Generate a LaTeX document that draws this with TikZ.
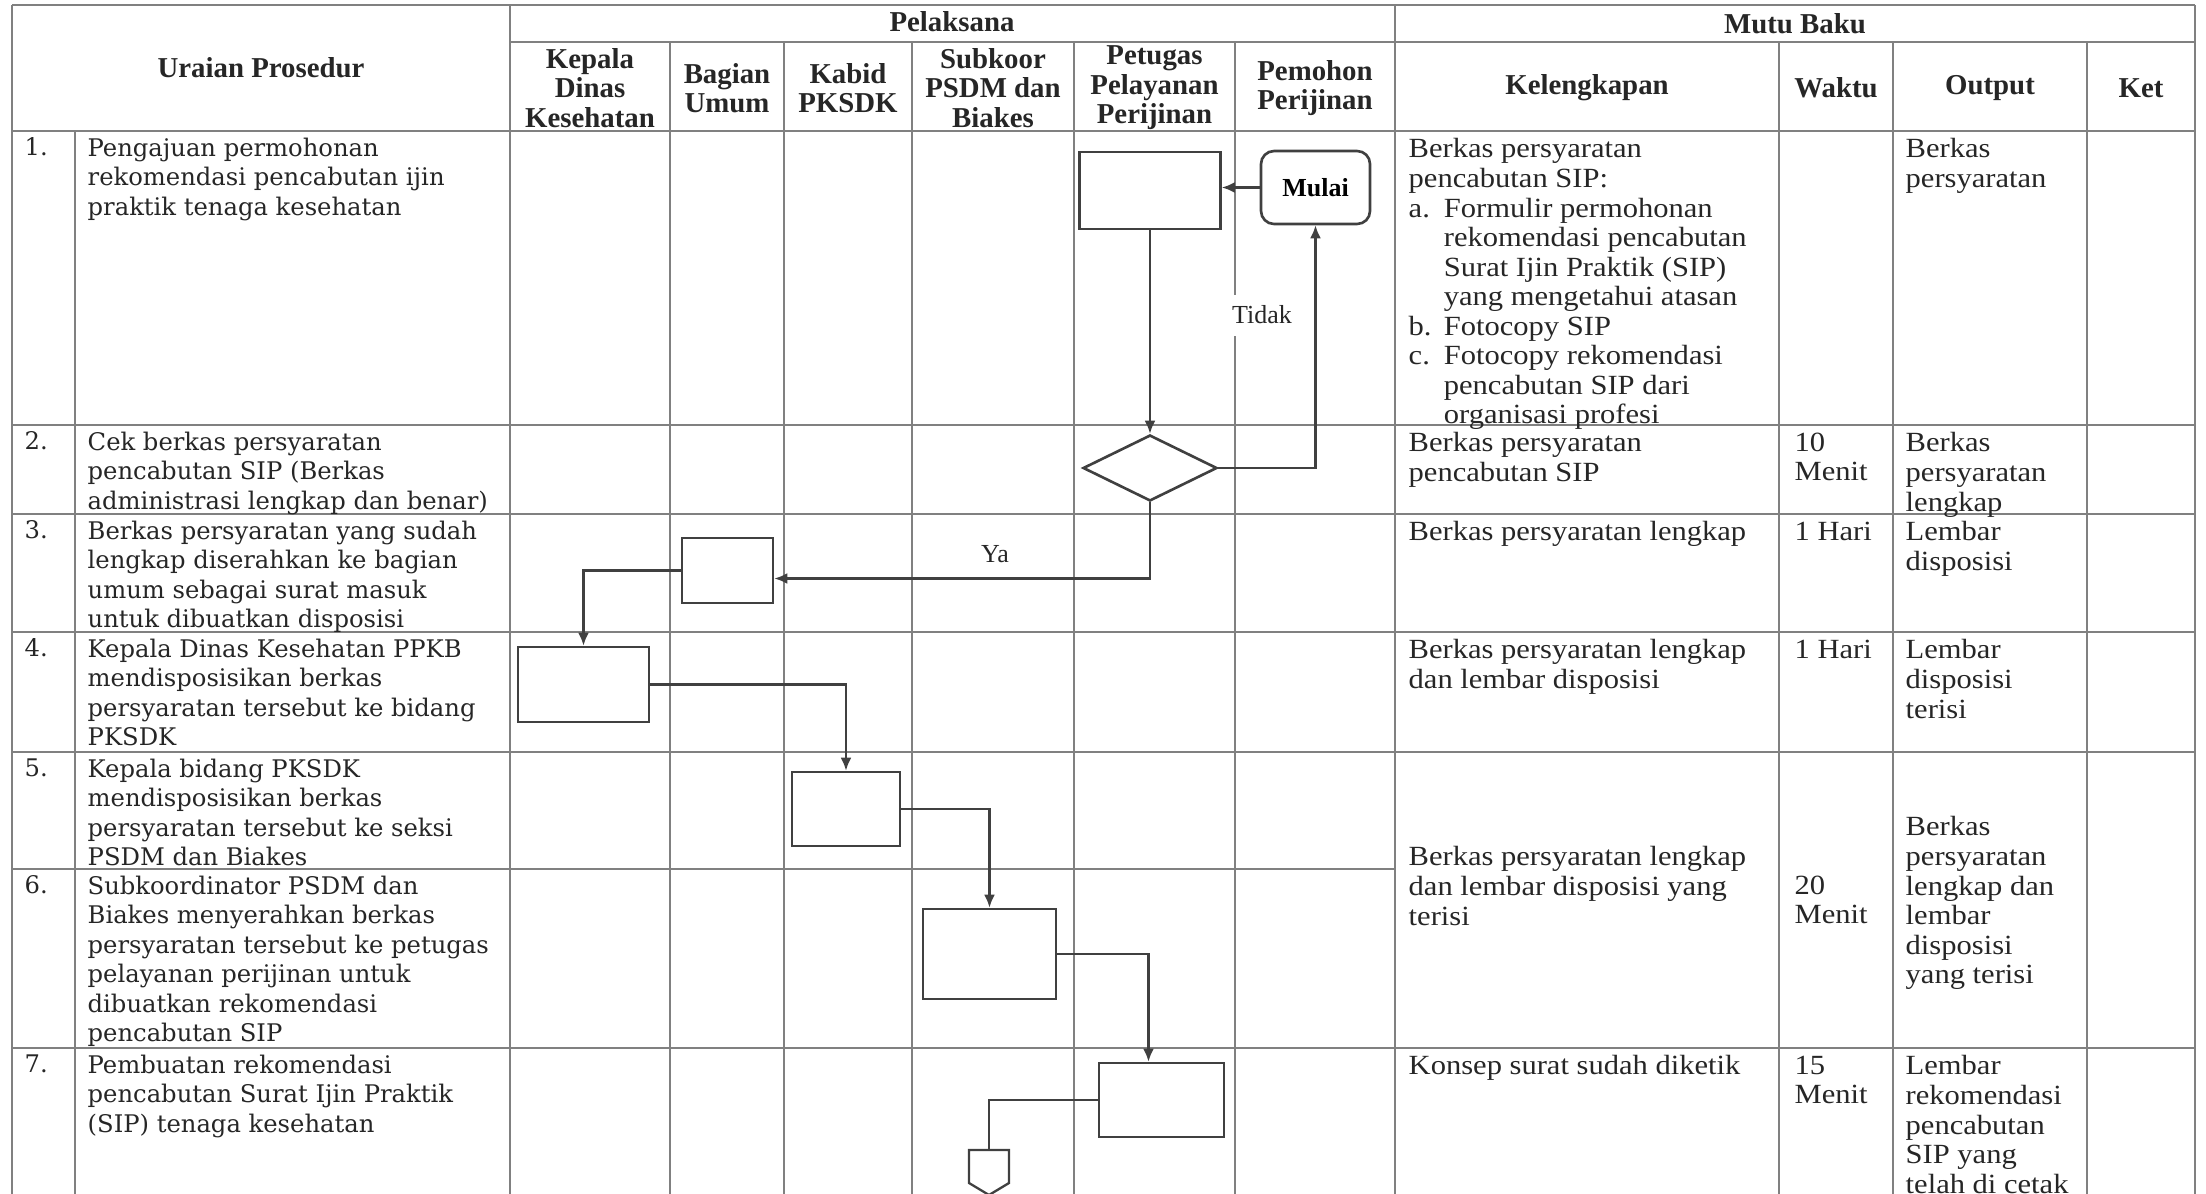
\documentclass[tikz,border=0pt]{standalone}
\usepackage{fontspec}
\setmainfont{Liberation Serif}
\newfontfamily\bkmfont{DejaVu Serif}
\newfontfamily\mutufont[FakeStretch=1.1]{Liberation Serif}
\usetikzlibrary{shapes.geometric,arrows.meta}
\def\butir#1{\makebox[10pt][l]{#1}}
\tikzset{
  garis/.style={draw=black!50, line width=0.45pt},
  proses/.style={draw=black!75, line width=0.75pt, rectangle, inner sep=0pt},
  cekbox/.style={draw=black!75, line width=0.75pt, diamond, inner sep=0pt, minimum width=13.4mm, minimum height=6.6mm},
  mulaibox/.style={draw=black!75, line width=0.75pt, rounded corners=1.3mm, minimum width=10.9mm, minimum height=7.3mm, inner sep=0pt, font=\bfseries\fontsize{7.4}{8}\selectfont},
  alur/.style={draw=black!75, line width=0.65pt, -{Latex[length=1.3mm,width=1.1mm]}},
  garisalur/.style={draw=black!75, line width=0.65pt},
  kop/.style={align=center, inner sep=0pt, text=black!85, font=\bfseries\fontsize{8.2}{8.4}\selectfont},
  uraian/.style={anchor=north west, align=left, inner sep=0pt, text=black!85, font=\bkmfont\fontsize{6.9}{8.4}\selectfont},
  mutu/.style={anchor=north west, align=left, inner sep=0pt, text=black!85, font=\mutufont\fontsize{7.9}{8.4}\selectfont},
  label/.style={inner sep=0pt, text=black!85, font=\fontsize{7.4}{8}\selectfont},
}
\begin{document}
\begin{tikzpicture}[x=0.1mm,y=-0.1mm]
	\useasboundingbox (0,0) rectangle (2206,1194);
	%%%%% TABEL %%%%%
	\draw[garis] (12,5) -- (2195,5);
	\draw[garis] (510,42) -- (2195,42);
	\draw[garis] (12,131) -- (2195,131);
	\foreach \y in {425,514,632,752,1048} \draw[garis] (12,\y) -- (2195,\y);
	\draw[garis] (12,869) -- (1395,869);
	\foreach \x in {12,510,1395,2195} \draw[garis] (\x,5) -- (\x,1194);
	\draw[garis] (75,131) -- (75,1194);
	\foreach \x in {670,784,912,1074,1235,1779,1893,2087} \draw[garis] (\x,42) -- (\x,1194);
	
	%%%%% KEPALA TABEL %%%%%
	\node[kop] (uraianprosedur) at (261,68) {Uraian Prosedur};
	\node[kop] (pelaksana) at (952,22) {Pelaksana};
	\node[kop] (mutubaku) at (1795,24) {Mutu Baku};
	\node[kop] (kadinkop) at (590,88) {Kepala\\Dinas\\Kesehatan};
	\node[kop] (umumkop) at (727,88) {Bagian\\Umum};
	\node[kop] (kabidkop) at (848,88) {Kabid\\PKSDK};
	\node[kop] (subkoorkop) at (993,88) {Subkoor\\PSDM dan\\Biakes};
	\node[kop] (petugaskop) at (1154.5,88) {Petugas\\Pelayanan\\Perijinan};
	\node[kop] (pemohonkop) at (1315,88) {Pemohon\\Perijinan};
	\node[kop] (kelengkapankop) at (1587,88) {Kelengkapan};
	\node[kop] (waktukop) at (1836,88) {Waktu};
	\node[kop] (outputkop) at (1990,88) {Output};
	\node[kop] (ketkop) at (2141,88) {Ket};
	
	%%%%% URAIAN %%%%%
	\node[uraian] (no1) at (24,137) {1.};
	\node[uraian] (ur1) at (87,137) {Pengajuan permohonan\\rekomendasi pencabutan ijin\\praktik tenaga kesehatan};
	\node[uraian] (no2) at (24,431) {2.};
	\node[uraian] (ur2) at (87,431) {Cek berkas persyaratan\\pencabutan SIP (Berkas\\administrasi lengkap dan benar)};
	\node[uraian] (no3) at (24,520) {3.};
	\node[uraian] (ur3) at (87,520) {Berkas persyaratan yang sudah\\lengkap diserahkan ke bagian\\umum sebagai surat masuk\\untuk dibuatkan disposisi};
	\node[uraian] (no4) at (24,638) {4.};
	\node[uraian] (ur4) at (87,638) {Kepala Dinas Kesehatan PPKB\\mendisposisikan berkas\\persyaratan tersebut ke bidang\\PKSDK};
	\node[uraian] (no5) at (24,758) {5.};
	\node[uraian] (ur5) at (87,758) {Kepala bidang PKSDK\\mendisposisikan berkas\\persyaratan tersebut ke seksi\\PSDM dan Biakes};
	\node[uraian] (no6) at (24,875) {6.};
	\node[uraian] (ur6) at (87,875) {Subkoordinator PSDM dan\\Biakes menyerahkan berkas\\persyaratan tersebut ke petugas\\pelayanan perijinan untuk\\dibuatkan rekomendasi\\pencabutan SIP};
	\node[uraian] (no7) at (24,1054) {7.};
	\node[uraian] (ur7) at (87,1054) {Pembuatan rekomendasi\\pencabutan Surat Ijin Praktik\\(SIP) tenaga kesehatan};
	
	%%%%% MUTU BAKU %%%%%
	\node[mutu] (kel1) at (1408,138) {Berkas persyaratan\\pencabutan SIP:\\\butir{a.}Formulir permohonan\\\hspace*{10pt}rekomendasi pencabutan\\\hspace*{10pt}Surat Ijin Praktik (SIP)\\\hspace*{10pt}yang mengetahui atasan\\\butir{b.}Fotocopy SIP\\\butir{c.}Fotocopy rekomendasi\\\hspace*{10pt}pencabutan SIP dari\\\hspace*{10pt}organisasi profesi};
	\node[mutu] (out1) at (1905,138) {Berkas\\persyaratan};
	\node[mutu] (kel2) at (1408,432) {Berkas persyaratan\\pencabutan SIP};
	\node[mutu] (wkt2) at (1794,432) {10\\Menit};
	\node[mutu] (out2) at (1905,432) {Berkas\\persyaratan\\lengkap};
	\node[mutu] (kel3) at (1408,521) {Berkas persyaratan lengkap};
	\node[mutu] (wkt3) at (1794,521) {1 Hari};
	\node[mutu] (out3) at (1905,521) {Lembar\\disposisi};
	\node[mutu] (kel4) at (1408,639) {Berkas persyaratan lengkap\\dan lembar disposisi};
	\node[mutu] (wkt4) at (1794,639) {1 Hari};
	\node[mutu] (out4) at (1905,639) {Lembar\\disposisi\\terisi};
	\node[mutu] (kel56) at (1408,846) {Berkas persyaratan lengkap\\dan lembar disposisi yang\\terisi};
	\node[mutu] (wkt56) at (1794,875) {20\\Menit};
	\node[mutu] (out56) at (1905,816) {Berkas\\persyaratan\\lengkap dan\\lembar\\disposisi\\yang terisi};
	\node[mutu] (kel7) at (1408,1055) {Konsep surat sudah diketik};
	\node[mutu] (wkt7) at (1794,1055) {15\\Menit};
	\node[mutu] (out7) at (1905,1055) {Lembar\\rekomendasi\\pencabutan\\SIP yang\\telah di cetak};
	
	%%%%% ALUR %%%%%
	\node[mulaibox] (mulai) at (1315.5,187.5) {Mulai};
	\node[proses, minimum width=14.1mm, minimum height=7.7mm] (terima) at (1150,190.5) {};
	\node[cekbox] (cek) at (1150,468) {};
	\node[proses, minimum width=9.1mm, minimum height=6.5mm] (umum) at (727.5,570.5) {};
	\node[proses, minimum width=13.1mm, minimum height=7.5mm] (kadin) at (583.5,684.5) {};
	\node[proses, minimum width=10.8mm, minimum height=7.4mm] (kabid) at (846,809) {};
	\node[proses, minimum width=13.3mm, minimum height=9mm] (subkoor) at (989.5,954) {};
	\node[proses, minimum width=12.5mm, minimum height=7.4mm] (petugas) at (1161.5,1100) {};
	\coordinate (lanjut) at (989,1150);
	\draw[garisalur] (lanjut) -- ++(20,0) -- ++(0,33) -- ++(-20,12) -- ++(-20,-12) -- ++(0,-33) -- cycle;
	
	\draw[alur] (mulai.west) -- (mulai.west -| terima.east);
	\draw[alur] (terima.south) -- (cek.north);
	\draw[alur] (cek.east) -| (mulai.south);
	\node[label, fill=white, minimum height=4.1mm] (tidak) at (1262,315) {Tidak};
	\draw[alur] (cek.south) |- ([yshift=-0.8mm]umum.east);
	\node[label] (ya) at (995,554) {Ya};
	\draw[alur] (umum.west) -| (kadin.north);
	\draw[alur] (kadin.east) -| (kabid.north);
	\draw[alur] (kabid.east) -| (subkoor.north);
	\draw[alur] (subkoor.east) -| ([xshift=-1.3mm]petugas.north);
	\draw[garisalur] (petugas.west) -| (lanjut);
\end{tikzpicture}
\end{document}
